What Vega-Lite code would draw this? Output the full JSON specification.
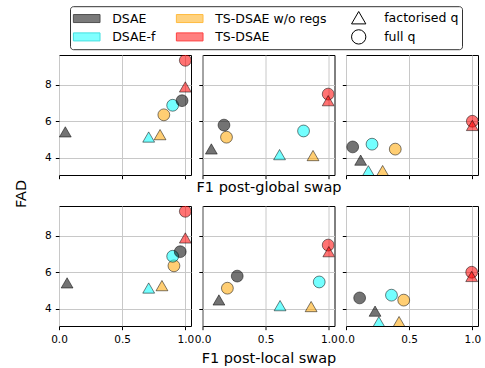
{
  "$schema": "https://vega.github.io/schema/vega-lite/v6.json",
  "padding": {"left": 12, "top": 5, "right": 5, "bottom": 2},
  "background": "white",
  "datasets": {
    "pts": [
      {"swap": "global", "panel": 1, "method": "TS-DSAE w/o regs", "q": "full q", "f1": 0.83, "fad": 6.35},
      {"swap": "global", "panel": 1, "method": "DSAE-f", "q": "full q", "f1": 0.90, "fad": 6.87},
      {"swap": "global", "panel": 1, "method": "DSAE", "q": "full q", "f1": 0.974, "fad": 7.12},
      {"swap": "global", "panel": 1, "method": "TS-DSAE", "q": "full q", "f1": 1.0, "fad": 9.32},
      {"swap": "global", "panel": 1, "method": "TS-DSAE w/o regs", "q": "factorised q", "f1": 0.80, "fad": 5.27},
      {"swap": "global", "panel": 1, "method": "DSAE-f", "q": "factorised q", "f1": 0.71, "fad": 5.14},
      {"swap": "global", "panel": 1, "method": "DSAE", "q": "factorised q", "f1": 0.05, "fad": 5.42},
      {"swap": "global", "panel": 1, "method": "TS-DSAE", "q": "factorised q", "f1": 1.0, "fad": 7.87},

      {"swap": "global", "panel": 2, "method": "TS-DSAE w/o regs", "q": "full q", "f1": 0.19, "fad": 5.13},
      {"swap": "global", "panel": 2, "method": "DSAE-f", "q": "full q", "f1": 0.80, "fad": 5.47},
      {"swap": "global", "panel": 2, "method": "DSAE", "q": "full q", "f1": 0.17, "fad": 5.79},
      {"swap": "global", "panel": 2, "method": "TS-DSAE", "q": "full q", "f1": 0.995, "fad": 7.48},
      {"swap": "global", "panel": 2, "method": "TS-DSAE w/o regs", "q": "factorised q", "f1": 0.875, "fad": 4.13},
      {"swap": "global", "panel": 2, "method": "DSAE-f", "q": "factorised q", "f1": 0.61, "fad": 4.18},
      {"swap": "global", "panel": 2, "method": "DSAE", "q": "factorised q", "f1": 0.07, "fad": 4.49},
      {"swap": "global", "panel": 2, "method": "TS-DSAE", "q": "factorised q", "f1": 0.995, "fad": 7.12},

      {"swap": "global", "panel": 3, "method": "TS-DSAE w/o regs", "q": "full q", "f1": 0.39, "fad": 4.48},
      {"swap": "global", "panel": 3, "method": "DSAE-f", "q": "full q", "f1": 0.206, "fad": 4.75},
      {"swap": "global", "panel": 3, "method": "DSAE", "q": "full q", "f1": 0.053, "fad": 4.6},
      {"swap": "global", "panel": 3, "method": "TS-DSAE", "q": "full q", "f1": 1.0, "fad": 6.0},
      {"swap": "global", "panel": 3, "method": "TS-DSAE w/o regs", "q": "factorised q", "f1": 0.29, "fad": 3.31},
      {"swap": "global", "panel": 3, "method": "DSAE-f", "q": "factorised q", "f1": 0.177, "fad": 3.3},
      {"swap": "global", "panel": 3, "method": "DSAE", "q": "factorised q", "f1": 0.116, "fad": 3.88},
      {"swap": "global", "panel": 3, "method": "TS-DSAE", "q": "factorised q", "f1": 1.0, "fad": 5.77},

      {"swap": "local", "panel": 1, "method": "TS-DSAE w/o regs", "q": "full q", "f1": 0.91, "fad": 6.35},
      {"swap": "local", "panel": 1, "method": "DSAE-f", "q": "full q", "f1": 0.90, "fad": 6.87},
      {"swap": "local", "panel": 1, "method": "DSAE", "q": "full q", "f1": 0.96, "fad": 7.12},
      {"swap": "local", "panel": 1, "method": "TS-DSAE", "q": "full q", "f1": 1.0, "fad": 9.32},
      {"swap": "local", "panel": 1, "method": "TS-DSAE w/o regs", "q": "factorised q", "f1": 0.815, "fad": 5.27},
      {"swap": "local", "panel": 1, "method": "DSAE-f", "q": "factorised q", "f1": 0.71, "fad": 5.14},
      {"swap": "local", "panel": 1, "method": "DSAE", "q": "factorised q", "f1": 0.064, "fad": 5.42},
      {"swap": "local", "panel": 1, "method": "TS-DSAE", "q": "factorised q", "f1": 1.0, "fad": 7.87},

      {"swap": "local", "panel": 2, "method": "TS-DSAE w/o regs", "q": "full q", "f1": 0.197, "fad": 5.13},
      {"swap": "local", "panel": 2, "method": "DSAE-f", "q": "full q", "f1": 0.924, "fad": 5.47},
      {"swap": "local", "panel": 2, "method": "DSAE", "q": "full q", "f1": 0.275, "fad": 5.79},
      {"swap": "local", "panel": 2, "method": "TS-DSAE", "q": "full q", "f1": 0.995, "fad": 7.48},
      {"swap": "local", "panel": 2, "method": "TS-DSAE w/o regs", "q": "factorised q", "f1": 0.86, "fad": 4.13},
      {"swap": "local", "panel": 2, "method": "DSAE-f", "q": "factorised q", "f1": 0.614, "fad": 4.18},
      {"swap": "local", "panel": 2, "method": "DSAE", "q": "factorised q", "f1": 0.13, "fad": 4.49},
      {"swap": "local", "panel": 2, "method": "TS-DSAE", "q": "factorised q", "f1": 1.0, "fad": 7.12},

      {"swap": "local", "panel": 3, "method": "TS-DSAE w/o regs", "q": "full q", "f1": 0.457, "fad": 4.48},
      {"swap": "local", "panel": 3, "method": "DSAE-f", "q": "full q", "f1": 0.36, "fad": 4.75},
      {"swap": "local", "panel": 3, "method": "DSAE", "q": "full q", "f1": 0.108, "fad": 4.6},
      {"swap": "local", "panel": 3, "method": "TS-DSAE", "q": "full q", "f1": 0.995, "fad": 6.0},
      {"swap": "local", "panel": 3, "method": "TS-DSAE w/o regs", "q": "factorised q", "f1": 0.42, "fad": 3.31},
      {"swap": "local", "panel": 3, "method": "DSAE-f", "q": "factorised q", "f1": 0.26, "fad": 3.3},
      {"swap": "local", "panel": 3, "method": "DSAE", "q": "factorised q", "f1": 0.23, "fad": 3.88},
      {"swap": "local", "panel": 3, "method": "TS-DSAE", "q": "factorised q", "f1": 0.995, "fad": 5.77}
    ],
    "keys": [
      {"key": "DSAE"}, {"key": "DSAE-f"}, {"key": "TS-DSAE w/o regs"},
      {"key": "TS-DSAE"}, {"key": "factorised q"}, {"key": "full q"}
    ]
  },
  "columns": 3,
  "spacing": {"row": 31, "column": 11.5},
  "bounds": "flush",
  "resolve": {"scale": {"fill": "independent", "shape": "independent", "stroke": "independent"}},
  "concat": [
    {
      "width": 132, "height": 120,
      "encoding": {
        "x": {"field": "f1", "type": "quantitative", "scale": {"domain": [0, 1.045], "nice": false, "zero": false},
              "axis": {"values": [0, 0.5, 1], "labels": false, "title": null}},
        "y": {"field": "fad", "type": "quantitative", "scale": {"domain": [3.07, 9.61], "nice": false, "zero": false},
              "axis": {"values": [4, 6, 8], "title": "FAD", "titleX": -34, "titleY": 138.4, "titleAngle": 270, "titleBaseline": "alphabetic", "titleAlign": "center"}}
      },
      "layer": [
        {
          "data": {"name": "pts"},
          "transform": [{"filter": "datum.swap === 'global' && datum.panel === 1"}],
          "mark": {"type": "point", "filled": true, "opacity": 1, "fillOpacity": 0.55, "stroke": "black", "strokeOpacity": 0.5, "strokeWidth": 1, "size": 140, "clip": true},
          "encoding": {
            "fill": {"field": "method", "type": "nominal", "scale": {"domain": ["DSAE", "DSAE-f", "TS-DSAE w/o regs", "TS-DSAE"], "range": ["#000000", "#00ffff", "#ffa500", "#ff0000"]}, "legend": null},
            "shape": {"field": "q", "type": "nominal", "scale": {"domain": ["factorised q", "full q"], "range": ["triangle-up", "circle"]}, "legend": null}
          }
        },
        {
          "data": {"name": "keys"},
          "mark": {"type": "point", "filled": true, "opacity": 1, "invalid": "filter"},
          "encoding": {
            "fill": {"field": "key", "type": "nominal",
              "scale": {"domain": ["DSAE", "DSAE-f", "TS-DSAE w/o regs", "TS-DSAE", "factorised q", "full q"],
                        "range": ["#7a7a7a", "#80ffff", "#ffd27f", "#ff8080", "#ffffff", "#ffffff"]},
              "legend": {
                "orient": "none", "legendX": 11, "legendY": -48.8, "title": null,
                "columns": 3, "symbolSize": 205, "symbolStrokeWidth": 1, "symbolOffset": 5.6,
                "labelOffset": 17.5, "columnPadding": 18, "rowPadding": 0.6, "padding": 3.1,
                "strokeColor": "#333333", "fillColor": "white", "cornerRadius": 3,
                "labelFont": "DejaVu Sans", "labelFontSize": 12.5, "labelColor": "black", "labelLimit": 300,
                "symbolOpacity": 1, "gridAlign": "each"
              }},
            "stroke": {"field": "key", "type": "nominal",
              "scale": {"domain": ["DSAE", "DSAE-f", "TS-DSAE w/o regs", "TS-DSAE", "factorised q", "full q"],
                        "range": ["#505050", "#40e0e0", "#ffbb40", "#ff4040", "#000000", "#000000"]}},
            "shape": {"field": "key", "type": "nominal",
              "scale": {"domain": ["DSAE", "DSAE-f", "TS-DSAE w/o regs", "TS-DSAE", "factorised q", "full q"],
                        "range": ["M-1.86,-0.56H1.86V0.56H-1.86Z", "M-1.86,-0.56H1.86V0.56H-1.86Z", "M-1.86,-0.56H1.86V0.56H-1.86Z", "M-1.86,-0.56H1.86V0.56H-1.86Z", "triangle-up", "circle"]}}
          }
        }
      ],
      "resolve": {"scale": {"fill": "independent", "shape": "independent", "stroke": "independent"}}
    },
    {
      "width": 132, "height": 120,
      "data": {"name": "pts"},
      "transform": [{"filter": "datum.swap === 'global' && datum.panel === 2"}],
      "mark": {"type": "point", "filled": true, "opacity": 1, "fillOpacity": 0.55, "stroke": "black", "strokeOpacity": 0.5, "strokeWidth": 1, "size": 140, "clip": true},
      "encoding": {
        "x": {"field": "f1", "type": "quantitative", "scale": {"domain": [0, 1.045], "nice": false, "zero": false},
              "axis": {"values": [0, 0.5, 1], "labels": false, "title": "F1 post-global swap", "titlePadding": 1}},
        "y": {"field": "fad", "type": "quantitative", "scale": {"domain": [3.07, 9.61], "nice": false, "zero": false},
              "axis": {"values": [4, 6, 8], "labels": false, "title": null}},
        "fill": {"field": "method", "type": "nominal", "scale": {"domain": ["DSAE", "DSAE-f", "TS-DSAE w/o regs", "TS-DSAE"], "range": ["#000000", "#00ffff", "#ffa500", "#ff0000"]}, "legend": null},
        "shape": {"field": "q", "type": "nominal", "scale": {"domain": ["factorised q", "full q"], "range": ["triangle-up", "circle"]}, "legend": null}
      }
    },
    {
      "width": 132, "height": 120,
      "data": {"name": "pts"},
      "transform": [{"filter": "datum.swap === 'global' && datum.panel === 3"}],
      "mark": {"type": "point", "filled": true, "opacity": 1, "fillOpacity": 0.55, "stroke": "black", "strokeOpacity": 0.5, "strokeWidth": 1, "size": 140, "clip": true},
      "encoding": {
        "x": {"field": "f1", "type": "quantitative", "scale": {"domain": [0, 1.045], "nice": false, "zero": false},
              "axis": {"values": [0, 0.5, 1], "labels": false, "title": null}},
        "y": {"field": "fad", "type": "quantitative", "scale": {"domain": [3.07, 9.61], "nice": false, "zero": false},
              "axis": {"values": [4, 6, 8], "labels": false, "title": null}},
        "fill": {"field": "method", "type": "nominal", "scale": {"domain": ["DSAE", "DSAE-f", "TS-DSAE w/o regs", "TS-DSAE"], "range": ["#000000", "#00ffff", "#ffa500", "#ff0000"]}, "legend": null},
        "shape": {"field": "q", "type": "nominal", "scale": {"domain": ["factorised q", "full q"], "range": ["triangle-up", "circle"]}, "legend": null}
      }
    },
    {
      "width": 132, "height": 120,
      "data": {"name": "pts"},
      "transform": [{"filter": "datum.swap === 'local' && datum.panel === 1"}],
      "mark": {"type": "point", "filled": true, "opacity": 1, "fillOpacity": 0.55, "stroke": "black", "strokeOpacity": 0.5, "strokeWidth": 1, "size": 140, "clip": true},
      "encoding": {
        "x": {"field": "f1", "type": "quantitative", "scale": {"domain": [0, 1.045], "nice": false, "zero": false},
              "axis": {"values": [0, 0.5, 1], "format": ".1f", "title": null}},
        "y": {"field": "fad", "type": "quantitative", "scale": {"domain": [3.07, 9.61], "nice": false, "zero": false},
              "axis": {"values": [4, 6, 8], "title": null}},
        "fill": {"field": "method", "type": "nominal", "scale": {"domain": ["DSAE", "DSAE-f", "TS-DSAE w/o regs", "TS-DSAE"], "range": ["#000000", "#00ffff", "#ffa500", "#ff0000"]}, "legend": null},
        "shape": {"field": "q", "type": "nominal", "scale": {"domain": ["factorised q", "full q"], "range": ["triangle-up", "circle"]}, "legend": null}
      }
    },
    {
      "width": 132, "height": 120,
      "data": {"name": "pts"},
      "transform": [{"filter": "datum.swap === 'local' && datum.panel === 2"}],
      "mark": {"type": "point", "filled": true, "opacity": 1, "fillOpacity": 0.55, "stroke": "black", "strokeOpacity": 0.5, "strokeWidth": 1, "size": 140, "clip": true},
      "encoding": {
        "x": {"field": "f1", "type": "quantitative", "scale": {"domain": [0, 1.045], "nice": false, "zero": false},
              "axis": {"values": [0, 0.5, 1], "format": ".1f", "title": "F1 post-local swap", "titlePadding": 6}},
        "y": {"field": "fad", "type": "quantitative", "scale": {"domain": [3.07, 9.61], "nice": false, "zero": false},
              "axis": {"values": [4, 6, 8], "labels": false, "title": null}},
        "fill": {"field": "method", "type": "nominal", "scale": {"domain": ["DSAE", "DSAE-f", "TS-DSAE w/o regs", "TS-DSAE"], "range": ["#000000", "#00ffff", "#ffa500", "#ff0000"]}, "legend": null},
        "shape": {"field": "q", "type": "nominal", "scale": {"domain": ["factorised q", "full q"], "range": ["triangle-up", "circle"]}, "legend": null}
      }
    },
    {
      "width": 132, "height": 120,
      "data": {"name": "pts"},
      "transform": [{"filter": "datum.swap === 'local' && datum.panel === 3"}],
      "mark": {"type": "point", "filled": true, "opacity": 1, "fillOpacity": 0.55, "stroke": "black", "strokeOpacity": 0.5, "strokeWidth": 1, "size": 140, "clip": true},
      "encoding": {
        "x": {"field": "f1", "type": "quantitative", "scale": {"domain": [0, 1.045], "nice": false, "zero": false},
              "axis": {"values": [0, 0.5, 1], "format": ".1f", "title": null}},
        "y": {"field": "fad", "type": "quantitative", "scale": {"domain": [3.07, 9.61], "nice": false, "zero": false},
              "axis": {"values": [4, 6, 8], "labels": false, "title": null}},
        "fill": {"field": "method", "type": "nominal", "scale": {"domain": ["DSAE", "DSAE-f", "TS-DSAE w/o regs", "TS-DSAE"], "range": ["#000000", "#00ffff", "#ffa500", "#ff0000"]}, "legend": null},
        "shape": {"field": "q", "type": "nominal", "scale": {"domain": ["factorised q", "full q"], "range": ["triangle-up", "circle"]}, "legend": null}
      }
    }
  ],
  "config": {
    "view": {"stroke": "black", "strokeWidth": 1},
    "axis": {
      "domain": false, "grid": true, "gridColor": "#c8c8c8", "gridWidth": 1,
      "tickColor": "black", "tickSize": 3.7, "tickWidth": 1,
      "labelFont": "DejaVu Sans", "labelFontSize": 10.5, "labelColor": "black",
      "labelFlush": false, "labelOverlap": false,
      "titleFont": "DejaVu Sans", "titleFontSize": 14.5, "titleFontWeight": "normal", "titleColor": "black"
    },
    "axisX": {"labelPadding": 5},
    "axisY": {"labelPadding": 4}
  }
}
